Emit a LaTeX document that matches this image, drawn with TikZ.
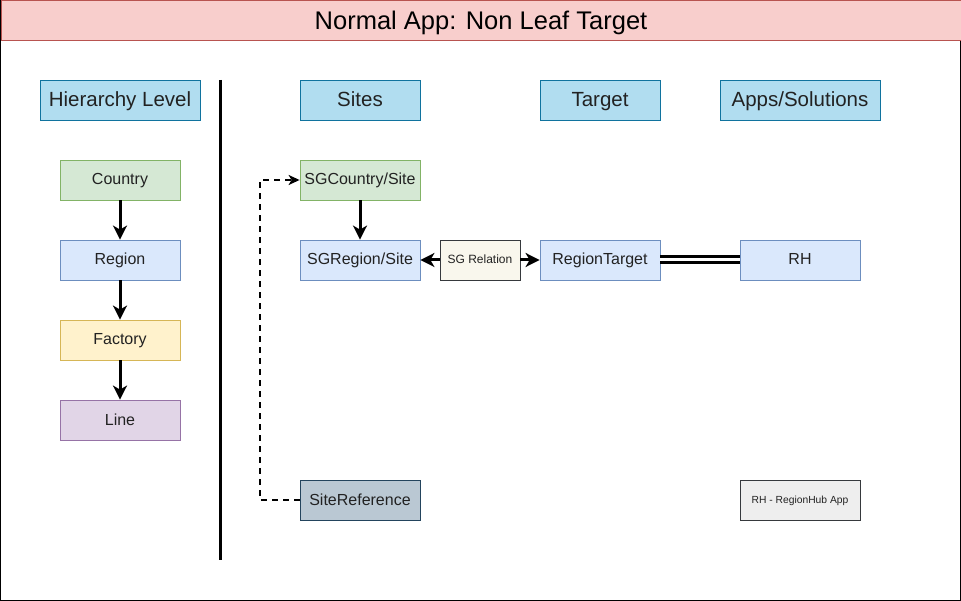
\documentclass[tikz,border=0pt]{standalone}
\usepackage{fontspec}
\setmainfont{Liberation Sans}
\usetikzlibrary{arrows.meta}
\definecolor{titlefill}{HTML}{F8CECC}
\definecolor{titledraw}{HTML}{B85450}
\definecolor{hdrfill}{HTML}{B1DDF0}
\definecolor{hdrdraw}{HTML}{10739E}
\definecolor{gfill}{HTML}{D5E8D4}
\definecolor{gdraw}{HTML}{82B366}
\definecolor{bfill}{HTML}{DAE8FC}
\definecolor{bdraw}{HTML}{6C8EBF}
\definecolor{yfill}{HTML}{FFF2CC}
\definecolor{ydraw}{HTML}{D6B656}
\definecolor{pfill}{HTML}{E1D5E7}
\definecolor{pdraw}{HTML}{9673A6}
\definecolor{sgfill}{HTML}{F9F7ED}
\definecolor{sgdraw}{HTML}{36393D}
\definecolor{srfill}{HTML}{BAC8D3}
\definecolor{srdraw}{HTML}{23445D}
\definecolor{rhfill}{HTML}{EEEEEE}
\definecolor{txt}{HTML}{222222}
\begin{document}
\begin{tikzpicture}[x=1pt,y=-1pt,
  box/.style={draw, line width=0.8pt, minimum width=120pt, minimum height=40pt, inner sep=0pt, text=txt, text height=11.5pt, text depth=1.5pt, font=\fontsize{16}{18}\selectfont},
  hdr/.style={box, fill=hdrfill, draw=hdrdraw, text height=14.8pt, text depth=1.8pt, font=\fontsize{20.5}{23}\selectfont},
  gbox/.style={box, fill=gfill, draw=gdraw},
  bbox/.style={box, fill=bfill, draw=bdraw},
  ybox/.style={box, fill=yfill, draw=ydraw},
  pbox/.style={box, fill=pfill, draw=pdraw},
  small/.style={box, text height=8.6pt, text depth=1.2pt, font=\fontsize{12}{14}\selectfont},
  arr/.style={line width=3pt, -{Stealth[length=14pt,width=14pt,inset=4pt]}},
]
\useasboundingbox (0,0) rectangle (961,601);
\draw[line width=1pt] (0.5,0.5) rectangle (960,600);
\node[draw=titledraw, fill=titlefill, line width=1pt, minimum width=960pt, minimum height=40pt, inner sep=0pt, anchor=north west, text height=18.3pt, text depth=2pt, font=\fontsize{25.5}{28}\selectfont] (title) at (0.5,0.5) {Normal App: Non Leaf Target};

\node[hdr, minimum width=160pt] (hl) at (120,100) {Hierarchy Level};
\node[hdr] (sites) at (360,100) {Sites};
\node[hdr] (target) at (600,100) {Target};
\node[hdr, minimum width=160pt] (apps) at (800,100) {Apps/Solutions};

\coordinate (vt) at (220,80);
\coordinate (vb) at (220,560);
\draw[line width=3pt] (vt) -- (vb);

\node[gbox] (country) at (120,180) {Country};
\node[bbox] (region) at (120,260) {Region};
\node[ybox] (factory) at (120,340) {Factory};
\node[pbox] (line) at (120,420) {Line};
\draw[arr] (country) -- (region);
\draw[arr] (region) -- (factory);
\draw[arr] (factory) -- (line);

\node[gbox] (sgc) at (360,180) {SGCountry/Site};
\node[bbox] (sgr) at (360,260) {SGRegion/Site};
\node[small, fill=sgfill, draw=sgdraw, minimum width=80pt] (sgrel) at (480,260) {SG Relation};
\node[bbox] (rt) at (600,260) {RegionTarget};
\node[bbox] (rh) at (800,260) {RH};
\node[box, fill=srfill, draw=srdraw] (sref) at (360,500) {SiteReference};
\node[small, fill=rhfill, draw=sgdraw, text height=7.4pt, text depth=1pt, font=\fontsize{10.3}{12}\selectfont] (rhapp) at (800,500) {RH - RegionHub App};

\draw[arr] (sgc) -- (sgr);
\draw[arr] (sgrel) -- (sgr);
\draw[arr] (sgrel) -- (rt);
\draw[line width=3pt, double=white, double distance=3pt] (rt) -- (rh);
\draw[line width=1.8pt, dash pattern=on 6pt off 5pt, -{Stealth[length=11pt,width=10pt,inset=3pt]}]
  (sref.west) -- (260,500) -- (260,180) -- (sgc.west);
\end{tikzpicture}
\end{document}
